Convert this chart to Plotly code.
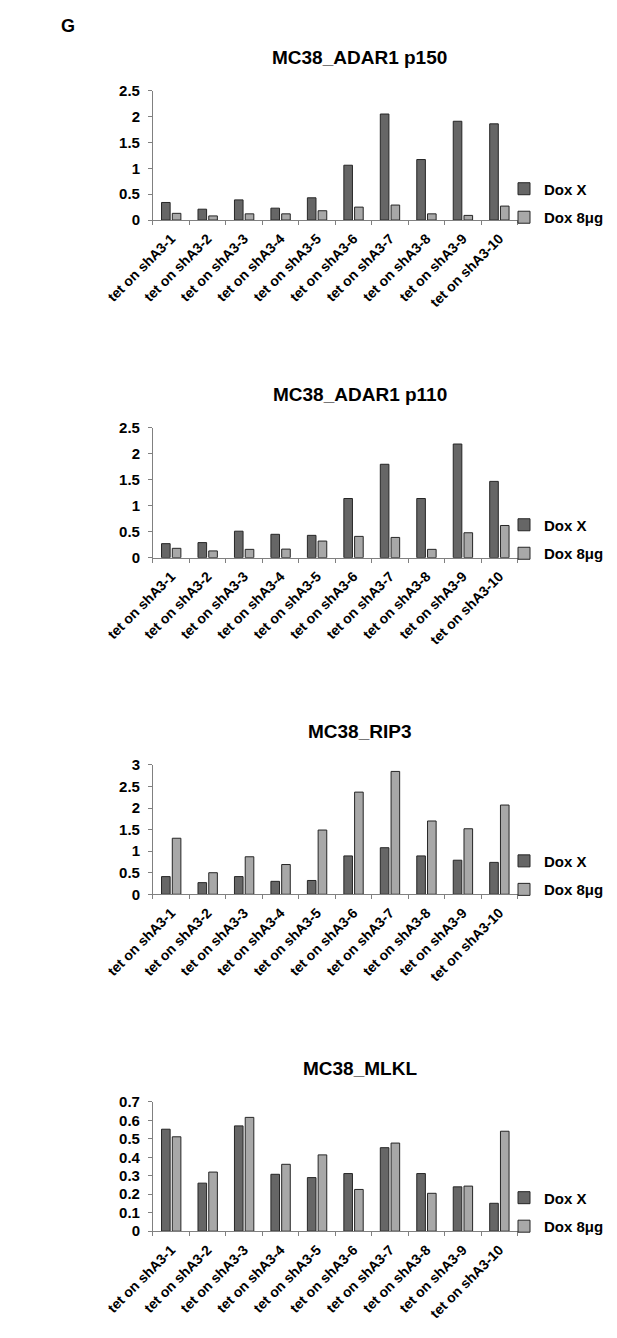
import plotly.graph_objects as go

# ---------------- data ----------------
categories = ["tet on shA3-1", "tet on shA3-2", "tet on shA3-3", "tet on shA3-4", "tet on shA3-5",
              "tet on shA3-6", "tet on shA3-7", "tet on shA3-8", "tet on shA3-9", "tet on shA3-10"]
series_names = ["Dox X", "Dox 8μg"]

titles = ["MC38_ADAR1 p150", "MC38_ADAR1 p110", "MC38_RIP3", "MC38_MLKL"]

p150_doxX = [0.34, 0.21, 0.39, 0.23, 0.43, 1.06, 2.05, 1.17, 1.91, 1.86]
p150_dox8 = [0.13, 0.08, 0.12, 0.12, 0.18, 0.25, 0.29, 0.12, 0.09, 0.27]

p110_doxX = [0.27, 0.29, 0.51, 0.45, 0.43, 1.14, 1.80, 1.14, 2.19, 1.47]
p110_dox8 = [0.18, 0.13, 0.16, 0.165, 0.32, 0.41, 0.39, 0.16, 0.48, 0.62]

rip3_doxX = [0.41, 0.27, 0.41, 0.30, 0.32, 0.89, 1.08, 0.89, 0.79, 0.74]
rip3_dox8 = [1.30, 0.50, 0.87, 0.69, 1.49, 2.37, 2.85, 1.70, 1.52, 2.07]

mlkl_doxX = [0.552, 0.26, 0.57, 0.308, 0.29, 0.312, 0.452, 0.312, 0.240, 0.151]
mlkl_dox8 = [0.511, 0.32, 0.616, 0.362, 0.413, 0.226, 0.477, 0.205, 0.244, 0.541]

y_max = [2.5, 2.5, 3.0, 0.7]
y_dtick = [0.5, 0.5, 0.5, 0.1]

panels = [(p150_doxX, p150_dox8), (p110_doxX, p110_dox8), (rip3_doxX, rip3_dox8), (mlkl_doxX, mlkl_dox8)]

# ---------------- layout (screen pixels of the 617x1338 page) ----------------
PAGE_W, PAGE_H = 617, 1338
BODY = 8                      # default <body> margin of the html page
W, H = PAGE_W - 2 * BODY, PAGE_H - 2 * BODY

x_left, x_right = 112.5, 509.5
axis_top = [82.7, 424.3, 765.7, 1107.0]
axis_zero = [213.7, 555.7, 896.7, 1238.0]
title_cx = 337.5
legend_mid = [196.4, 536.8, 877.3, 1218.5]

FONT = "Liberation Sans, Arial, sans-serif"
dark_fill = "#666666"
light_fill = "#a8a8a8"
edge = "#262626"
axis_col = "#808080"


def px_x(v):
    return (v - BODY) / W


def px_y(v):
    return 1 - (v - BODY) / H


fig = go.Figure()

annotations = [dict(text="<b>G</b>", x=px_x(10), y=px_y(17.5), xref="paper", yref="paper",
                    xanchor="left", yanchor="middle", showarrow=False,
                    font=dict(family=FONT, size=18, color="black"))]

for i, (sx, s8) in enumerate(panels):
    n = i + 1
    xa = "x" if n == 1 else f"x{n}"
    ya = "y" if n == 1 else f"y{n}"
    lg = "legend" if n == 1 else f"legend{n}"
    fig.add_trace(go.Bar(x=categories, y=sx, name=series_names[0], xaxis=xa, yaxis=ya,
                         marker=dict(color=dark_fill, line=dict(color=edge, width=1)),
                         legend=lg, legendgroup=f"a{n}"))
    fig.add_trace(go.Bar(x=categories, y=s8, name=series_names[1], xaxis=xa, yaxis=ya,
                         marker=dict(color=light_fill, line=dict(color=edge, width=1)),
                         legend=lg, legendgroup=f"b{n}"))

    xkey = "xaxis" if n == 1 else f"xaxis{n}"
    ykey = "yaxis" if n == 1 else f"yaxis{n}"
    fig.layout[xkey] = dict(domain=[px_x(x_left), px_x(x_right)], anchor=ya,
                            type="category", tickangle=-45, tickson="boundaries",
                            ticks="outside", ticklen=4, tickcolor=axis_col,
                            ticklabelstandoff=4,
                            showline=True, linecolor=axis_col, linewidth=1,
                            showgrid=False, zeroline=False,
                            tickfont=dict(family=FONT, size=14, color="black"))
    fig.layout[ykey] = dict(domain=[px_y(axis_zero[i]), px_y(axis_top[i])], anchor=xa,
                            range=[0, y_max[i]], dtick=y_dtick[i], tick0=0,
                            ticks="outside", ticklen=4, tickcolor=axis_col,
                            ticklabelstandoff=5,
                            showline=True, linecolor=axis_col, linewidth=1,
                            showgrid=False, zeroline=False,
                            tickfont=dict(family=FONT, size=15, color="black"))
    fig.layout[lg] = dict(x=1, xanchor="right", y=px_y(legend_mid[i]), yanchor="middle",
                          bgcolor="rgba(0,0,0,0)", borderwidth=0, tracegroupgap=6,
                          font=dict(family=FONT, size=15, color="black"))
    annotations.append(dict(text=f"<b>{titles[i]}</b>", x=px_x(title_cx), y=px_y(axis_top[i] - 33.5),
                            xref="paper", yref="paper", xanchor="center", yanchor="middle",
                            showarrow=False, font=dict(family=FONT, size=19, color="black")))

fig.update_layout(width=W, height=H, autosize=False,
                  margin=dict(l=0, r=0, t=0, b=0),
                  paper_bgcolor="white", plot_bgcolor="white",
                  barmode="group", bargap=0.41, bargroupgap=0.2,
                  showlegend=True, annotations=annotations,
                  font=dict(family=FONT, color="black", weight="bold"))

fig.write_html("out.html")
